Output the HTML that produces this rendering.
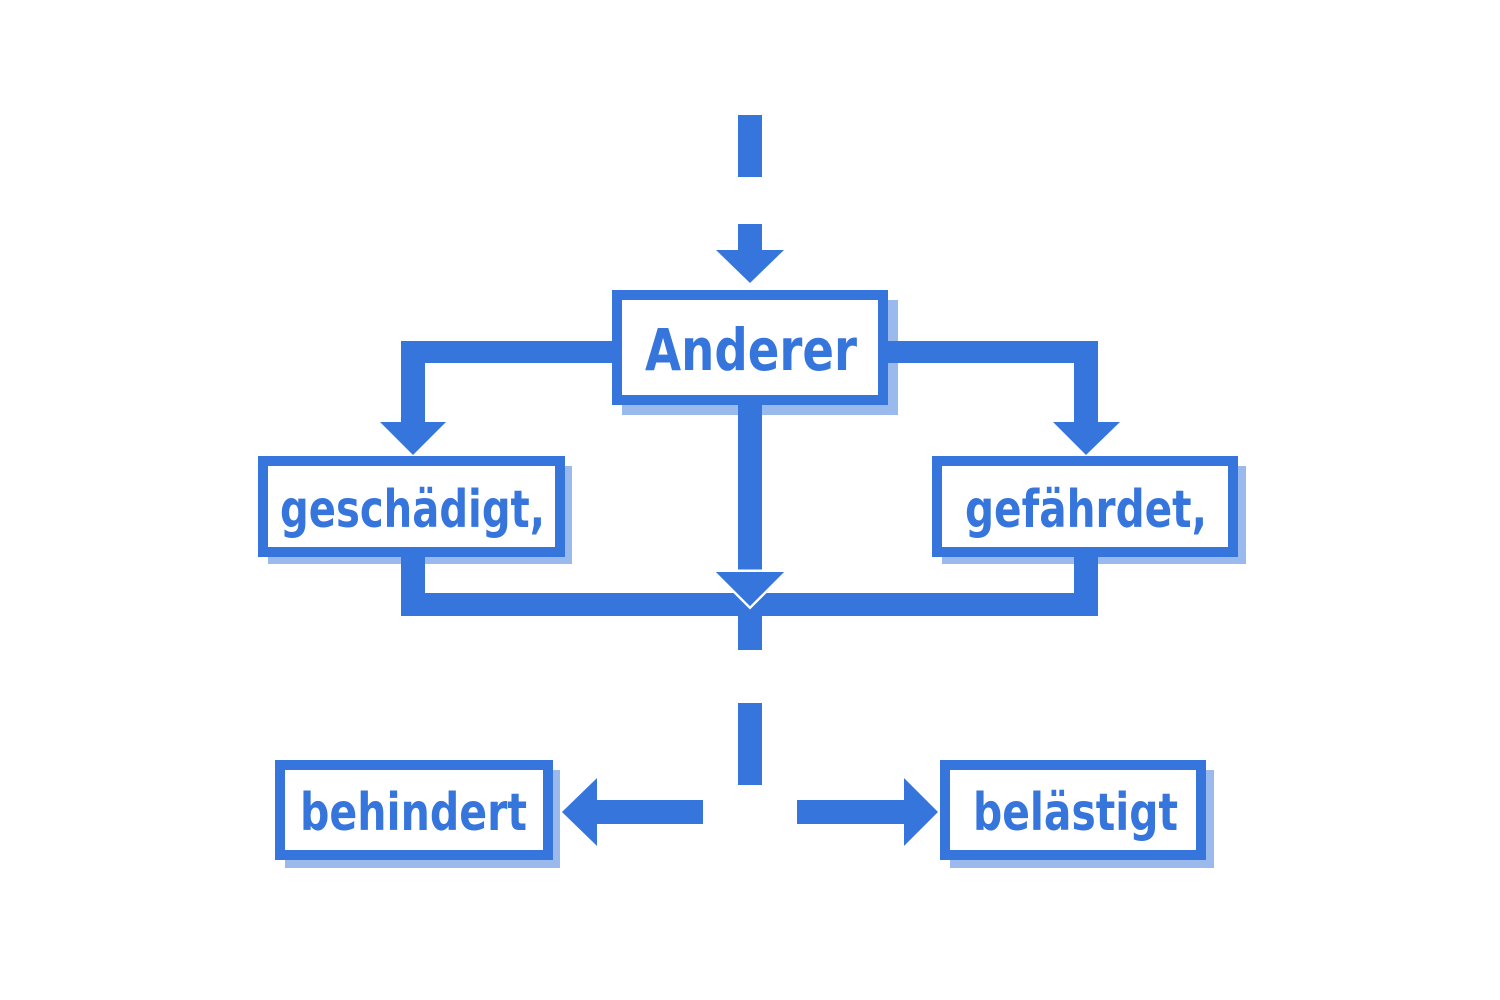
<!DOCTYPE html>
<html><head><meta charset="utf-8"><style>html,body{margin:0;padding:0;background:#fff}svg{display:block}</style></head>
<body>
<svg width="1500" height="1000" viewBox="0 0 1500 1000" xmlns="http://www.w3.org/2000/svg">
<g fill="#9ab9ec">
<rect x="622" y="300" width="276" height="115"/>
<rect x="268" y="466" width="304" height="98"/>
<rect x="942" y="466" width="304" height="98"/>
<rect x="285" y="770" width="275" height="98"/>
<rect x="950" y="770" width="264" height="98"/>
</g>
<g fill="#3676dc">
<rect x="738" y="115" width="24" height="62"/>
<rect x="738" y="224" width="24" height="28"/>
<polygon points="716,250 784,250 750,283"/>
<rect x="401" y="341" width="211" height="22"/>
<rect x="401" y="341" width="24" height="83"/>
<polygon points="380,422 446,422 413,455"/>
<rect x="888" y="341" width="210" height="22"/>
<rect x="1074" y="341" width="24" height="83"/>
<polygon points="1053,422 1120,422 1086,455"/>
<rect x="401" y="555" width="24" height="60"/>
<rect x="1074" y="555" width="24" height="60"/>
<rect x="401" y="593" width="697" height="23"/>
<rect x="738" y="616" width="24" height="34"/>
<rect x="738" y="405" width="24" height="170"/>
<polygon points="716,572 784,572 750,606" stroke="#fff" stroke-width="5" paint-order="stroke"/>
<polygon points="716,572 784,572 750,606"/>
<rect x="738" y="703" width="24" height="82"/>
<rect x="596" y="800" width="107" height="24"/>
<polygon points="597,778 597,846 562,812"/>
<rect x="797" y="800" width="109" height="24"/>
<polygon points="904,778 904,846 938,812"/>
</g>
<g fill="#fff" stroke="#3676dc" stroke-width="10">
<rect x="617" y="295" width="266" height="105"/>
<rect x="263" y="461" width="297" height="91"/>
<rect x="937" y="461" width="296" height="91"/>
<rect x="280" y="765" width="268" height="90"/>
<rect x="945" y="765" width="256" height="90"/>
</g>
<g fill="#3676dc" font-family="'DejaVu Sans','Liberation Sans',sans-serif" font-weight="bold">
<text x="645" y="370" font-size="58" textLength="212" lengthAdjust="spacingAndGlyphs">Anderer</text>
<text x="280" y="527" font-size="52" textLength="265" lengthAdjust="spacingAndGlyphs">geschädigt,</text>
<text x="965" y="527" font-size="52" textLength="242" lengthAdjust="spacingAndGlyphs">gefährdet,</text>
<text x="300" y="830" font-size="52" textLength="227" lengthAdjust="spacingAndGlyphs">behindert</text>
<text x="973" y="830" font-size="52" textLength="205" lengthAdjust="spacingAndGlyphs">belästigt</text>
</g>
</svg>
</body></html>
